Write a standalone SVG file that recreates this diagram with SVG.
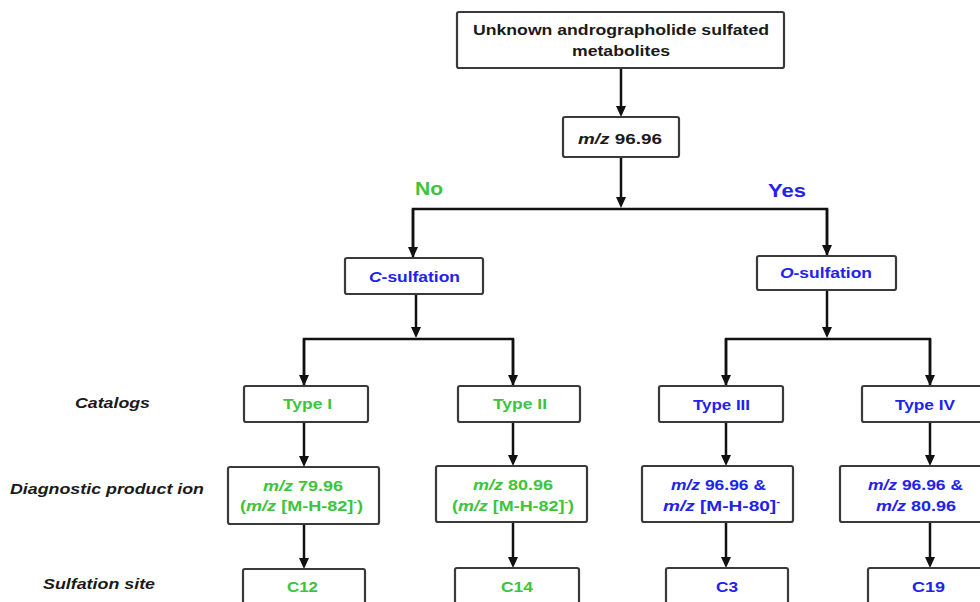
<svg xmlns="http://www.w3.org/2000/svg" width="980" height="602" viewBox="0 0 980 602">
<defs>
<marker id="ah" markerUnits="userSpaceOnUse" markerWidth="11" markerHeight="10" refX="1" refY="5" orient="auto">
<path d="M0,0 L11,5 L0,10 z" fill="#111"/>
</marker>
<style>
.box{fill:#fff;stroke:#3a3a3a;stroke-width:2.2}
.t{font-family:"Liberation Sans",Arial,sans-serif;font-weight:bold;font-size:15px;text-anchor:middle}
.k{fill:#1a1a1a}
.g{fill:#3cc43c}
.b{fill:#2222ee}
.lab{font-style:italic;fill:#1a1a1a}
.i{font-style:italic}
.sup{font-size:9px}
.c{fill:none;stroke:#111;stroke-width:2.5}
.ca{fill:none;stroke:#111;stroke-width:2.5;marker-end:url(#ah)}
</style>
</defs>
<rect width="980" height="602" fill="#fff"/>

<g id="connectors">
<path class="ca" d="M621,68 V107"/>
<path class="ca" d="M621,157 V198"/>
<path class="c" d="M413,258 V209 H827 V256"/>
<path class="ca" d="M413,209 V248"/>
<path class="ca" d="M827,209 V246"/>
<path class="ca" d="M416,294 V328"/>
<path class="ca" d="M827,290 V328"/>
<path class="c" d="M304,386 V339 H513 V386"/>
<path class="c" d="M726,386 V339 H930 V386"/>
<path class="ca" d="M304,339 V376"/>
<path class="ca" d="M513,339 V376"/>
<path class="ca" d="M726,339 V376"/>
<path class="ca" d="M930,339 V376"/>
<path class="ca" d="M304,422 V457"/>
<path class="ca" d="M513,422 V456"/>
<path class="ca" d="M726,422 V456"/>
<path class="ca" d="M930,422 V456"/>
<path class="ca" d="M304,524 V559"/>
<path class="ca" d="M513,522 V558"/>
<path class="ca" d="M726,522 V558"/>
<path class="ca" d="M930,522 V558"/>
</g>

<g id="labels">
<text class="t" x="429" y="195" style="font-size:18px" textLength="28" lengthAdjust="spacingAndGlyphs" fill="#3cc43c">No</text>
<text class="t" x="787" y="197" style="font-size:18px" textLength="38" lengthAdjust="spacingAndGlyphs" fill="#2222ee">Yes</text>
<text class="t lab" x="112.5" y="408" textLength="75" lengthAdjust="spacingAndGlyphs">Catalogs</text>
<text class="t lab" x="107" y="494" textLength="194" lengthAdjust="spacingAndGlyphs">Diagnostic product ion</text>
<text class="t lab" x="99" y="589" textLength="112" lengthAdjust="spacingAndGlyphs">Sulfation site</text>
</g>

<g id="n-root">
<rect class="box" x="457" y="12" width="327" height="56" rx="2"/>
<text class="t k" x="621" y="35" textLength="296" lengthAdjust="spacingAndGlyphs">Unknown andrographolide sulfated</text>
<text class="t k" x="621" y="56" textLength="98" lengthAdjust="spacingAndGlyphs">metabolites</text>
</g>

<g id="n-mz">
<rect class="box" x="563" y="117" width="116" height="40" rx="2"/>
<text class="t k" x="620" y="144" textLength="84" lengthAdjust="spacingAndGlyphs"><tspan class="i">m/z</tspan> 96.96</text>
</g>

<g id="n-csulf">
<rect class="box" x="345" y="258" width="138" height="36" rx="2"/>
<text class="t b" x="414.5" y="282" textLength="91" lengthAdjust="spacingAndGlyphs"><tspan class="i">C</tspan>-sulfation</text>
</g>

<g id="n-osulf">
<rect class="box" x="757" y="256" width="139" height="34" rx="2"/>
<text class="t b" x="826" y="278" textLength="92" lengthAdjust="spacingAndGlyphs"><tspan class="i">O</tspan>-sulfation</text>
</g>

<g id="n-type1">
<rect class="box" x="244" y="386" width="124" height="36" rx="2"/>
<text class="t g" x="307.5" y="409" textLength="49" lengthAdjust="spacingAndGlyphs">Type I</text>
</g>
<g id="n-type2">
<rect class="box" x="458" y="386" width="122" height="36" rx="2"/>
<text class="t g" x="520" y="409" textLength="54" lengthAdjust="spacingAndGlyphs">Type II</text>
</g>
<g id="n-type3">
<rect class="box" x="659" y="386" width="124" height="36" rx="2"/>
<text class="t b" x="721.5" y="410" textLength="57" lengthAdjust="spacingAndGlyphs">Type III</text>
</g>
<g id="n-type4">
<rect class="box" x="862" y="386" width="130" height="36" rx="2"/>
<text class="t b" x="925" y="410" textLength="60" lengthAdjust="spacingAndGlyphs">Type IV</text>
</g>

<g id="n-diag1">
<rect class="box" x="228" y="467" width="151" height="57" rx="2"/>
<text class="t g" x="303" y="491" textLength="80" lengthAdjust="spacingAndGlyphs"><tspan class="i">m/z</tspan> 79.96</text>
<text class="t g" x="301.5" y="511" textLength="123" lengthAdjust="spacingAndGlyphs">(<tspan class="i">m/z</tspan> [M-H-82]<tspan class="sup" dy="-6">-</tspan><tspan dy="6">)</tspan></text>
</g>
<g id="n-diag2">
<rect class="box" x="436" y="466" width="151" height="56" rx="2"/>
<text class="t g" x="513" y="490" textLength="80" lengthAdjust="spacingAndGlyphs"><tspan class="i">m/z</tspan> 80.96</text>
<text class="t g" x="513" y="511" textLength="122" lengthAdjust="spacingAndGlyphs">(<tspan class="i">m/z</tspan> [M-H-82]<tspan class="sup" dy="-6">-</tspan><tspan dy="6">)</tspan></text>
</g>
<g id="n-diag3">
<rect class="box" x="642" y="466" width="151" height="56" rx="2"/>
<text class="t b" x="718.5" y="490" textLength="95" lengthAdjust="spacingAndGlyphs"><tspan class="i">m/z</tspan> 96.96 &amp;</text>
<text class="t b" x="721.5" y="511" textLength="117" lengthAdjust="spacingAndGlyphs"><tspan class="i">m/z</tspan> [M-H-80]<tspan class="sup" dy="-6">-</tspan></text>
</g>
<g id="n-diag4">
<rect class="box" x="840" y="466" width="180" height="56" rx="2"/>
<text class="t b" x="915.5" y="490" textLength="95" lengthAdjust="spacingAndGlyphs"><tspan class="i">m/z</tspan> 96.96 &amp;</text>
<text class="t b" x="916" y="511" textLength="80" lengthAdjust="spacingAndGlyphs"><tspan class="i">m/z</tspan> 80.96</text>
</g>

<g id="n-c12">
<rect class="box" x="243" y="569" width="122" height="50" rx="2"/>
<text class="t g" x="302.5" y="592" textLength="31" lengthAdjust="spacingAndGlyphs">C12</text>
</g>
<g id="n-c14">
<rect class="box" x="455" y="568" width="124" height="50" rx="2"/>
<text class="t g" x="517" y="592" textLength="32" lengthAdjust="spacingAndGlyphs">C14</text>
</g>
<g id="n-c3">
<rect class="box" x="666" y="568" width="122" height="50" rx="2"/>
<text class="t b" x="727" y="592" textLength="22" lengthAdjust="spacingAndGlyphs">C3</text>
</g>
<g id="n-c19">
<rect class="box" x="868" y="568" width="124" height="50" rx="2"/>
<text class="t b" x="928.5" y="592" textLength="33" lengthAdjust="spacingAndGlyphs">C19</text>
</g>
</svg>
